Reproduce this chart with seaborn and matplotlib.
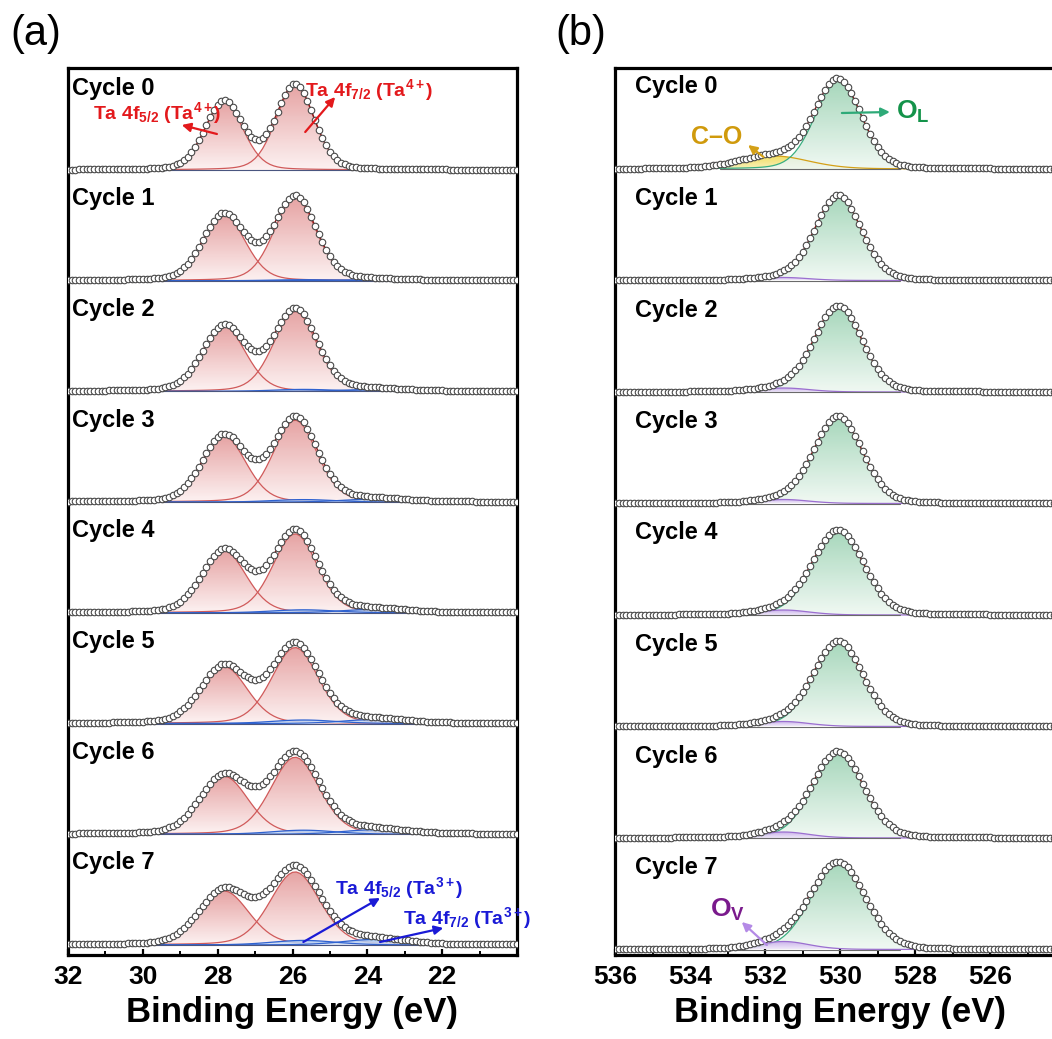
import numpy as np
import matplotlib
matplotlib.use("Agg")
import matplotlib.pyplot as plt
import seaborn as sns
from matplotlib.colors import LinearSegmentedColormap
from matplotlib.transforms import blended_transform_factory

# ---------------- data ----------------
cycles = ["Cycle 0", "Cycle 1", "Cycle 2", "Cycle 3",
          "Cycle 4", "Cycle 5", "Cycle 6", "Cycle 7"]

# Ta 4f fit components (binding energy in eV, heights in counts, arb.)
ta4_52_center = 27.83
ta4_72_center = 25.93
ta3_52_center = 25.70
ta3_72_center = 23.80
ta4_52_height = [68, 66, 65, 66, 62, 57, 58, 54]
ta4_72_height = [85, 83, 80, 82, 79, 76, 77, 73]
ta4_fwhm = [1.20, 1.33, 1.36, 1.38, 1.40, 1.47, 1.52, 1.57]
ta3_52_height = [0.0, 1.0, 2.0, 2.5, 3.0, 3.5, 4.0, 4.5]
ta3_72_height = [0.0, 1.0, 2.0, 3.0, 3.5, 4.0, 4.5, 5.5]
ta3_fwhm = 2.0
ta_fit_window = (31.1, 21.2)

# O 1s fit components
o_lat_center = 530.05
o_lat_height = [88, 85, 86, 87, 85, 85, 86, 87]
o_lat_fwhm = [1.45, 1.45, 1.50, 1.52, 1.60, 1.56, 1.60, 1.70]
o_vac_center = 531.5
o_vac_height = [0, 3, 4, 4, 5, 5, 6, 8]
o_vac_fwhm = 1.6
co_center = 531.75
co_height = [13, 0, 0, 0, 0, 0, 0, 0]
co_fwhm = 2.2

ta_ticks = [32, 30, 28, 26, 24, 22]
o_ticks = [536, 534, 532, 530, 528, 526, 524]

# ---------------- style ----------------
sns.set_theme(style="ticks")
plt.rcParams["font.family"] = ["Liberation Sans", "DejaVu Sans"]
plt.rcParams["mathtext.fontset"] = "custom"
plt.rcParams["mathtext.rm"] = "Liberation Sans:bold"
plt.rcParams["mathtext.it"] = "Liberation Sans:bold"
plt.rcParams["mathtext.bf"] = "Liberation Sans:bold"
plt.rcParams["text.color"] = "black"
plt.rcParams["axes.labelcolor"] = "black"
plt.rcParams["xtick.color"] = "black"
plt.rcParams["xtick.labelcolor"] = "black"

W, H = 1052, 1039
fig = plt.figure(figsize=(W / 100, H / 100), dpi=100)
fig.patch.set_facecolor("white")

top_px, bot_px = 68, 955
ax_a = fig.add_axes([68 / W, 1 - bot_px / H, (517 - 68) / W, (bot_px - top_px) / H])
ax_b = fig.add_axes([615 / W, 1 - bot_px / H, 450 / W, (bot_px - top_px) / H])


def pseudo_voigt(x, center, height, fwhm, eta=0.2):
    d = (x - center) / fwhm
    g = np.exp(-4 * np.log(2) * d ** 2)
    lor = 1.0 / (1.0 + 4 * d ** 2)
    return height * (eta * lor + (1 - eta) * g)


def gradient_fill(ax, x, base, y, top_color, bottom_color, z, alpha=0.9):
    if y.max() - base < 0.3:
        return
    poly = ax.fill_between(x, base, y, facecolor="none", edgecolor="none", zorder=z)
    cmap = LinearSegmentedColormap.from_list("g", [bottom_color, top_color])
    grad = np.linspace(0, 1, 128).reshape(-1, 1)
    im = ax.imshow(grad, cmap=cmap, aspect="auto", origin="lower",
                   extent=[x.min(), x.max(), base, y.max()], zorder=z,
                   interpolation="bilinear", alpha=alpha)
    im.set_clip_path(poly.get_paths()[0], ax.transData)


def draw_component(ax, x, base, comp, line_color, top_color, bottom_color, z):
    gradient_fill(ax, x, base, base + comp, top_color, bottom_color, z)
    if comp.max() > 0.3:
        ax.plot(x, base + comp, color=line_color, lw=0.9, zorder=z + 0.5)


def draw_spectrum(ax, x_all, y_all, x_fit, y_fit, line_color):
    sns.lineplot(x=x_fit, y=y_fit, ax=ax, color=line_color, lw=1.0,
                 sort=False, estimator=None, zorder=6)
    sns.scatterplot(x=x_all, y=y_all, ax=ax, s=22, color="white",
                    edgecolor="#4a4a4a", linewidth=0.8, zorder=7, legend=False)


RED_LINE, RED_TOP, RED_BOT = "#d05a5a", "#e49a9a", "#fdf1f1"
BLUE_LINE, BLUE_TOP, BLUE_BOT = "#2f62d0", "#8fb4ea", "#e6eefa"
GREEN_LINE, GREEN_TOP, GREEN_BOT = "#3aae80", "#9dd3b4", "#eff8f2"
GOLD_LINE, GOLD_TOP, GOLD_BOT = "#d4a017", "#f0dc55", "#f9f0b4"
PURP_LINE, PURP_TOP, PURP_BOT = "#9b6fd0", "#c6aaea", "#f0e8fa"
ENV = "#8b1a1a"

# ---------------- panel (a): Ta 4f ----------------
ta_x = np.round(np.arange(32.0, 19.95, -0.1), 2)
ta_step = 110.7
for k, name in enumerate(cycles):
    base = 775 - ta_step * k
    c52 = pseudo_voigt(ta_x, ta4_52_center, ta4_52_height[k], ta4_fwhm[k])
    c72 = pseudo_voigt(ta_x, ta4_72_center, ta4_72_height[k], ta4_fwhm[k])
    b52 = pseudo_voigt(ta_x, ta3_52_center, ta3_52_height[k], ta3_fwhm)
    b72 = pseudo_voigt(ta_x, ta3_72_center, ta3_72_height[k], ta3_fwhm)
    total = base + c52 + c72 + b52 + b72
    win = (ta_x <= ta_fit_window[0]) & (ta_x >= ta_fit_window[1])
    xw = ta_x[win]
    draw_component(ax_a, xw, base, c52[win], RED_LINE, RED_TOP, RED_BOT, 2)
    draw_component(ax_a, xw, base, c72[win], RED_LINE, RED_TOP, RED_BOT, 2.1)
    draw_component(ax_a, xw, base, b52[win], BLUE_LINE, BLUE_TOP, BLUE_BOT, 3)
    draw_component(ax_a, xw, base, b72[win], BLUE_LINE, BLUE_TOP, BLUE_BOT, 3.1)
    ax_a.plot(xw, np.full_like(xw, base), color="#4a5680", lw=0.8, zorder=4)
    draw_spectrum(ax_a, ta_x, total, xw, total[win], ENV)
    ax_a.text(0.009, base + 82, name,
              transform=blended_transform_factory(ax_a.transAxes, ax_a.transData),
              ha="left", va="center", fontsize=17, fontweight="bold",
              color="black", zorder=10)

# ---------------- panel (b): O 1s ----------------
o_x = np.round(np.arange(536.0, 523.95, -0.1), 2)
o_step = 111.5
for k, name in enumerate(cycles):
    base = 776 - o_step * k
    lat = pseudo_voigt(o_x, o_lat_center, o_lat_height[k], o_lat_fwhm[k], eta=0.15)
    vac = pseudo_voigt(o_x, o_vac_center, o_vac_height[k], o_vac_fwhm)
    co = pseudo_voigt(o_x, co_center, co_height[k], co_fwhm)
    total = base + lat + vac + co
    draw_component(ax_b, o_x, base, co, GOLD_LINE, GOLD_TOP, GOLD_BOT, 2)
    draw_component(ax_b, o_x, base, lat, GREEN_LINE, GREEN_TOP, GREEN_BOT, 2.1)
    draw_component(ax_b, o_x, base, vac, PURP_LINE, PURP_TOP, PURP_BOT, 3)
    bw = (o_x <= 533.2) & (o_x >= 528.4)
    ax_b.plot(o_x[bw], np.full(bw.sum(), base), color="#6a6a6a", lw=0.8, zorder=4)
    draw_spectrum(ax_b, o_x, total, o_x, total, ENV)
    ax_b.text(0.044, base + 82, name,
              transform=blended_transform_factory(ax_b.transAxes, ax_b.transData),
              ha="left", va="center", fontsize=17, fontweight="bold",
              color="black", zorder=10)

# ---------------- annotations ----------------
def arrow(ax, tail, head, color):
    ax.annotate("", xy=head, xytext=tail,
                arrowprops=dict(arrowstyle="-|>", color=color, lw=1.6,
                                mutation_scale=13, shrinkA=0, shrinkB=0),
                zorder=11, annotation_clip=False)

TA_RED = "#e3191c"
TA_BLUE = "#1a1ad6"
ax_a.text(31.33, 832, r"Ta 4f$_{5/2}$ (Ta$^{4+}$)", color=TA_RED, fontsize=14,
          fontweight="bold", ha="left", va="center", zorder=12)
arrow(ax_a, (28.02, 811), (28.96, 820), TA_RED)
ax_a.text(25.66, 855, r"Ta 4f$_{7/2}$ (Ta$^{4+}$)", color=TA_RED, fontsize=14,
          fontweight="bold", ha="left", va="center", zorder=12)
arrow(ax_a, (25.66, 813), (24.86, 848), TA_RED)

ax_a.text(24.86, 57, r"Ta 4f$_{5/2}$ (Ta$^{3+}$)", color=TA_BLUE, fontsize=14,
          fontweight="bold", ha="left", va="center", zorder=12)
arrow(ax_a, (25.71, 3), (23.66, 47), TA_BLUE)
ax_a.text(23.04, 27, r"Ta 4f$_{7/2}$ (Ta$^{3+}$)", color=TA_BLUE, fontsize=14,
          fontweight="bold", ha="left", va="center", zorder=12, clip_on=False)
arrow(ax_a, (23.66, 3), (21.97, 17), TA_BLUE)

ax_b.text(528.50, 833, r"O$_\mathregular{L}$", color="#14934a", fontsize=19,
          fontweight="bold", ha="left", va="center", zorder=12)
arrow(ax_b, (529.95, 832), (528.67, 833), "#2eaa78")
ax_b.text(533.28, 808, "C\u2013O", color="#d09a0c", fontsize=18,
          fontweight="bold", ha="center", va="center", zorder=12)
arrow(ax_b, (532.04, 788), (532.45, 800), "#d4a017")
ax_b.text(532.99, 35, r"O$_\mathregular{V}$", color="#7a1a8c", fontsize=19,
          fontweight="bold", ha="center", va="center", zorder=12)
arrow(ax_b, (531.95, 0), (532.62, 23), "#b48ae6")

# ---------------- axes styling ----------------
for ax, lim, ticks, shown in ((ax_a, (32, 20), ta_ticks, ta_ticks),
                              (ax_b, (536, 524), o_ticks, o_ticks[:-1])):
    ax.set_xlim(*lim)
    ax.set_ylim(-10, 877)
    ax.set_xticks(ticks)
    ax.set_xticks(np.arange(min(lim) + 1, max(lim), 2), minor=True)
    ax.set_xticklabels([str(t) if t in shown else "" for t in ticks])
    ax.set_yticks([])
    ax.tick_params(axis="x", which="major", direction="in", length=4.5, width=1.6,
                   labelsize=19, pad=7, top=False, bottom=True, color="black",
                   labelcolor="black")
    ax.tick_params(axis="x", which="minor", direction="in", length=3.0, width=1.4,
                   top=False, bottom=True, color="black")
    for lbl in ax.get_xticklabels():
        lbl.set_fontweight("bold")
    for s in ax.spines.values():
        s.set_linewidth(2.3)
        s.set_color("black")
        s.set_visible(True)
    ax.set_xlabel("Binding Energy (eV)", fontsize=25, fontweight="bold",
                  labelpad=5, color="black")
    ax.set_ylabel("")
    ax.set_facecolor("white")

fig.text(10 / W, 1 - 34 / H, "(a)", fontsize=30, ha="left", va="center", color="black")
fig.text(555 / W, 1 - 34 / H, "(b)", fontsize=30, ha="left", va="center", color="black")

fig.savefig("out.png", dpi=100, facecolor="white")
